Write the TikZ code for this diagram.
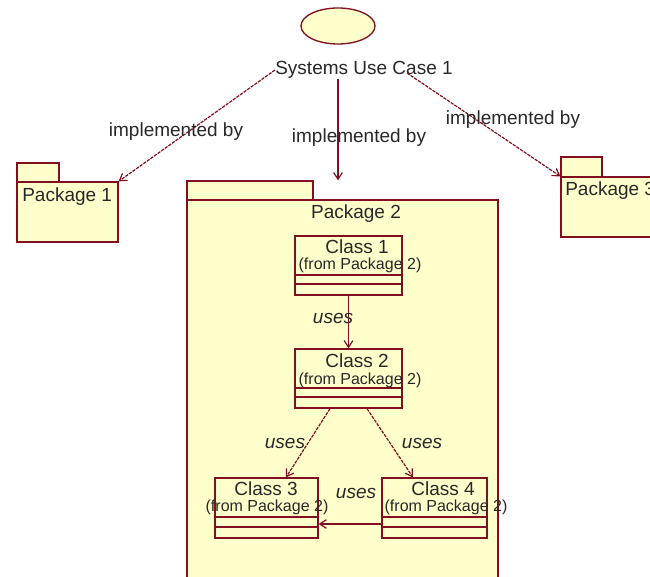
\documentclass[tikz,border=0pt]{standalone}
\usepackage{fontspec}
\setmainfont{Liberation Sans}
\usetikzlibrary{shapes.geometric,arrows.meta}
\definecolor{umlline}{RGB}{128,16,32}
\definecolor{umlfill}{RGB}{255,255,204}
\definecolor{umltext}{RGB}{40,40,40}
\tikzset{
  big/.style={font=\fontsize{14.25}{16}\selectfont, text=umltext, inner sep=0pt},
  small/.style={font=\fontsize{12}{14}\selectfont, text=umltext, inner sep=0pt},
  lbl/.style={big},
  usel/.style={font=\fontsize{14.25}{16}\selectfont\itshape, text=umltext, inner sep=0pt},
  box/.style={draw=umlline, fill=umlfill, line width=1pt, rectangle, inner sep=0pt},
  ucshape/.style={draw=umlline, fill=umlfill, line width=1pt, ellipse, inner sep=0pt,
     minimum width=55.5pt, minimum height=27pt},
  dep/.style={draw=umlline, line width=0.9pt, -{Straight Barb[length=5pt,width=6.5pt]}},
  depd/.style={dep, dash pattern=on 2.5pt off 0.8pt},
  sep/.style={draw=umlline, line width=1pt}
}
\begin{document}
\begin{tikzpicture}[x=0.75pt, y={(0pt,-0.75pt)}]
\path[use as bounding box, clip] (0,0) rectangle (650,577);
\fill[white] (0,0) rectangle (650,577);

% use case
\node[ucshape] (uc) at (338,26) {};
\node[big] (uclabel) at (364,70) {Systems Use Case 1};

% Package 1
\node[box, minimum width=31.5pt, minimum height=14.25pt] (p1tab) at (38,172.5) {};
\node[box, minimum width=75.75pt, minimum height=45pt] (p1) at (67.5,212) {};
\node[big, anchor=west] (p1label) at (22,197) {Package 1};

% Package 3
\node[box, minimum width=30.75pt, minimum height=15pt] (p3tab) at (581.5,167) {};
\node[box, minimum width=74.25pt, minimum height=45pt] (p3) at (610.5,207) {};
\node[big, anchor=west] (p3label) at (565,191) {Package 3};

% Package 2
\node[box, minimum width=94.5pt, minimum height=14.25pt] (p2tab) at (250,190.5) {};
\node[box, minimum width=233.25pt, minimum height=300pt] (p2) at (342.5,400) {};
\node[big] (p2label) at (356,214) {Package 2};

% Classes
\node[box, minimum width=80.25pt, minimum height=44.25pt] (c1) at (348.5,265.5) {};
\draw[sep] (295,275) -- (402,275) (295,284) -- (402,284);
\node[big] (c1t) at (357,247) {Class 1};
\node[small] (c1f) at (360,265) {(from Package 2)};

\node[box, minimum width=80.25pt, minimum height=44.25pt] (c2) at (348.5,378.5) {};
\draw[sep] (295,388) -- (402,388) (295,397) -- (402,397);
\node[big] (c2t) at (357,361) {Class 2};
\node[small] (c2f) at (360,380) {(from Package 2)};

\node[box, minimum width=77.25pt, minimum height=45pt] (c3) at (266.5,508) {};
\draw[sep] (215,517) -- (318,517) (215,527) -- (318,527);
\node[big] (c3t) at (266,489) {Class 3};
\node[small] (c3f) at (267,507) {(from Package 2)};

\node[box, minimum width=78.75pt, minimum height=45pt] (c4) at (434.5,508) {};
\draw[sep] (382,517) -- (487,517) (382,527) -- (487,527);
\node[big] (c4t) at (443,489) {Class 4};
\node[small] (c4f) at (446,507) {(from Package 2)};

% connectors
\coordinate (ucr) at (407,73);
\draw[depd] (uclabel.west) -- (p1.north east);
\draw[dep] (uc |- uclabel.south) -- (uc |- p2tab.north);
\draw[depd] (ucr) -- (p3.north west);

\draw[dep] (c1) -- (c2);
\path (c2.south) ++(-18.5,0) coordinate (c2a);
\path (c2.south) ++(18.5,0) coordinate (c2b);
\path (c3.north) ++(19.5,0) coordinate (c3a);
\path (c4.north) ++(-21.5,0) coordinate (c4a);
\draw[depd] (c2a) -- (c3a);
\draw[depd] (c2b) -- (c4a);
\draw[dep] (c4.west |- 0,524) -- (c3.east |- 0,524);

% labels
\node[lbl] (l1) at (176,132) {implemented by};
\node[lbl] (l2) at (359,138) {implemented by};
\node[lbl] (l3) at (513,120) {implemented by};
\node[usel] (u1) at (333,318) {uses};
\node[usel] (u2) at (285,443) {uses};
\node[usel] (u3) at (422,443) {uses};
\node[usel] (u4) at (356,493) {uses};
\end{tikzpicture}
\end{document}
